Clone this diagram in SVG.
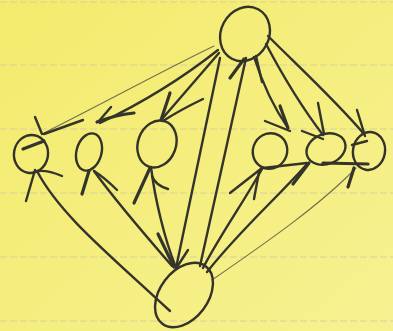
<svg xmlns="http://www.w3.org/2000/svg" width="393" height="331" viewBox="0 0 393 331">
<defs>
<linearGradient id="paper" x1="0" y1="0" x2="1" y2="1">
<stop offset="0" stop-color="#f3eb6c"/>
<stop offset="1" stop-color="#f7f192"/>
</linearGradient>
<style>
.rule{stroke:#d2cf9a;stroke-width:0.9;stroke-dasharray:7 3;fill:none}
.ink{fill:none;stroke:#34342a;stroke-width:2.4;stroke-linecap:round;stroke-linejoin:round}
.thick{stroke-width:3.2}
.faint{fill:none;stroke:#727050;stroke-width:1.1;stroke-linecap:round}
.node{fill:none;stroke:#33332a;stroke-width:2.4}
</style>
</defs>
<rect width="393" height="331" fill="url(#paper)"/>
<g id="rules">
<line class="rule" x1="0" y1="2" x2="393" y2="2"/>
<line class="rule" x1="0" y1="65" x2="393" y2="65"/>
<line class="rule" x1="0" y1="129" x2="393" y2="129"/>
<line class="rule" x1="0" y1="193" x2="393" y2="193"/>
<line class="rule" x1="0" y1="257" x2="393" y2="257"/>
<line class="rule" x1="0" y1="321" x2="393" y2="321"/>
</g>
<g id="connectors">
<g id="e-t-l1"><path class="faint" d="M214,46 C160,72 110,100 44,133"/><path class="ink" d="M44,134 L83,120"/><path class="ink" d="M35,117 L42,134"/><path class="ink thick" d="M23,149 L44,141"/></g>
<g id="e-t-l2"><path class="ink" d="M218,50 Q165,92 100,123"/><path class="ink thick" d="M97,122 Q115,115 134,113"/><path class="ink" d="M111,107 L99,121"/></g>
<g id="e-t-l3"><path class="ink" d="M219,53 L162,119"/><path class="ink thick" d="M170,93 L161,120"/><path class="ink" d="M203,99 Q180,110 163,121"/></g>
<g id="e-b-l1"><path class="ink" d="M37,171 C60,215 110,255 170,311"/><path class="ink" d="M26,201 L35,170"/><path class="ink" d="M62,176 Q48,170 38,171"/></g>
<g id="e-b-l2"><path class="ink" d="M94,171 C115,200 145,235 172,266"/><path class="ink thick" d="M82,194 L89,171"/><path class="ink" d="M117,190 Q105,178 94,171"/></g>
<g id="e-b-l3"><path class="ink" d="M151,167 C155,200 165,240 175,265"/><path class="ink thick" d="M134,203 L150,168"/><path class="ink" d="M168,189 Q155,185 152,176"/></g>
<g id="e-t-b"><path class="ink" d="M220,58 L176,268"/><path class="ink thick" d="M158,234 L174,267"/><path class="ink" d="M188,250 L177,267"/></g>
<g id="e-b-t"><path class="ink" d="M200,266 C215,200 232,120 246,58"/><path class="ink thick" d="M230,78 L244,59"/><path class="ink" d="M256,56 L262,82"/></g>
<g id="e-t-r1"><path class="ink" d="M254,57 C262,82 272,105 288,128"/><path class="ink" d="M265,121 L290,131"/><path class="ink thick" d="M280,106 L288,128"/></g>
<g id="e-t-r2"><path class="ink" d="M266,44 C285,80 300,105 323,135"/><path class="ink" d="M302,131 L323,139"/><path class="ink" d="M318,103 L324,134"/></g>
<g id="e-t-r3"><path class="ink" d="M268,36 C300,68 335,100 364,134"/><path class="ink" d="M352,145 L367,141"/><path class="ink" d="M357,110 L365,136"/></g>
<g id="e-b-r1"><path class="ink" d="M203,268 C220,235 245,200 262,169"/><path class="ink" d="M230,193 L262,168"/><path class="ink" d="M254,199 L259,172"/></g>
<g id="e-b-r2"><path class="ink" d="M207,272 C240,230 280,195 307,164"/><path class="ink thick" d="M293,184 L309,163"/><path class="ink" d="M263,168 L307,163"/></g>
<g id="e-b-r3"><path class="faint" d="M212,280 C270,240 320,205 356,168"/><path class="ink thick" d="M348,187 L354,168"/><path class="ink thick" d="M323,163 L368,164"/></g>
</g>
<g id="node-top"><ellipse class="node" cx="245" cy="34" rx="24" ry="28" transform="rotate(28 245 34)"/></g>
<g id="node-bottom"><ellipse class="node" cx="184" cy="295" rx="24" ry="36" transform="rotate(37 184 295)"/></g>
<g id="node-l1"><ellipse class="node" cx="31" cy="154" rx="17" ry="19" transform="rotate(10 31 154)"/></g>
<g id="node-l2"><ellipse class="node" cx="89" cy="152" rx="12.5" ry="19" transform="rotate(15 89 152)"/></g>
<g id="node-l3"><ellipse class="node" cx="157" cy="144" rx="19" ry="24" transform="rotate(20 157 144)"/></g>
<g id="node-r1"><ellipse class="node" cx="270" cy="151" rx="17" ry="18" transform="rotate(30 270 151)"/></g>
<g id="node-r2"><ellipse class="node" cx="326" cy="149" rx="20" ry="15" transform="rotate(-20 326 149)"/></g>
<g id="node-r3"><ellipse class="node" cx="369" cy="151" rx="16" ry="19" transform="rotate(10 369 151)"/></g>
</svg>
